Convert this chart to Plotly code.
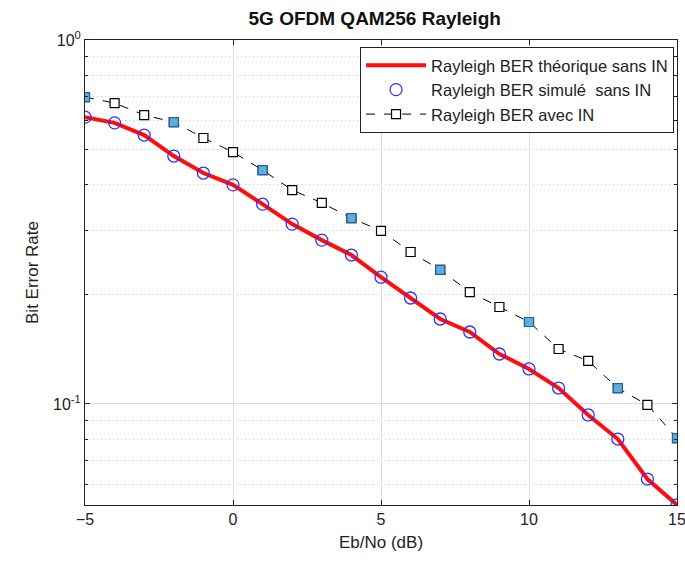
import plotly.graph_objects as go

ebno = list(range(-5, 16))
ber_theo = [0.614, 0.592, 0.548, 0.480, 0.431, 0.400, 0.354, 0.312, 0.282, 0.2566, 0.223,
            0.1955, 0.1712, 0.1577, 0.1372, 0.1248, 0.1106, 0.0933, 0.0801, 0.0622, 0.0528]
ber_sim = [0.614, 0.592, 0.548, 0.480, 0.431, 0.400, 0.354, 0.312, 0.282, 0.2566, 0.223,
           0.1955, 0.1712, 0.1577, 0.1372, 0.1248, 0.1106, 0.0933, 0.0801, 0.0622, 0.0528]
ber_in = [0.697, 0.671, 0.622, 0.595, 0.538, 0.492, 0.439, 0.387, 0.357, 0.324, 0.299,
          0.2616, 0.2335, 0.203, 0.1847, 0.168, 0.1416, 0.1313, 0.1106, 0.0994, 0.0806]
highlight_idx = [0, 3, 6, 9, 12, 15, 18, 20]

ytick_vals = [0.1, 1]
ytick_text = ["10<sup>-1</sup>", "10<sup>0</sup>"]
minor_vals = [0.06, 0.07, 0.08, 0.09, 0.2, 0.3, 0.4, 0.5, 0.6, 0.7, 0.8, 0.9]

font = "Liberation Sans, Arial, sans-serif"

fig = go.Figure()
fig.add_trace(go.Scatter(x=ebno, y=ber_theo, mode="lines", name="Rayleigh BER théorique sans IN",
                         line=dict(color="#ff0d0d", width=4)))
fig.add_trace(go.Scatter(x=ebno, y=ber_sim, mode="markers", name="Rayleigh BER simulé  sans IN",
                         marker=dict(symbol="circle-open", size=12, color="#3333ee", line=dict(width=1.3))))
fig.add_trace(go.Scatter(x=ebno, y=ber_in, mode="lines+markers", name="Rayleigh BER avec IN",
                         line=dict(color="black", width=1, dash="dash"),
                         marker=dict(symbol="square", size=9, color="white",
                                     line=dict(color="black", width=1.2))))
fig.add_trace(go.Scatter(x=[ebno[i] for i in highlight_idx], y=[ber_in[i] for i in highlight_idx],
                         mode="markers", showlegend=False,
                         marker=dict(symbol="square", size=9, color="#5ab0e0",
                                     line=dict(color="#2a5f98", width=1.2))))

fig.update_layout(
    width=685, height=563,
    margin=dict(l=85, r=8, t=40, b=58),
    paper_bgcolor="white", plot_bgcolor="white",
    font=dict(family=font, size=16, color="#222"),
    title=dict(text="<b>5G OFDM QAM256 Rayleigh</b>", x=0.547, xanchor="center", y=0.968, yanchor="middle",
               font=dict(size=19, color="#111")),
    xaxis=dict(range=[-5, 15], tickvals=[-5, 0, 5, 10, 15], showgrid=True, gridcolor="#dcdcdc", gridwidth=1,
               ticks="inside", ticklen=5, tickcolor="#222", mirror="ticks", showline=True, linecolor="#222",
               linewidth=1, zeroline=False, title=dict(text="Eb/No (dB)", standoff=8, font=dict(size=17)),
               tickfont=dict(size=16), automargin=False, ticklabeloverflow="allow"),
    yaxis=dict(type="log", range=[-1.2775, 0], tickvals=ytick_vals, ticktext=ytick_text,
               showgrid=True, gridcolor="#dcdcdc", gridwidth=1, ticks="inside", ticklen=5, tickcolor="#222",
               mirror="ticks", showline=True, linecolor="#222", linewidth=1, zeroline=False,
               title=dict(text="Bit Error Rate", standoff=10, font=dict(size=17)),
               tickfont=dict(size=16), automargin=False,
               minor=dict(tickvals=minor_vals, showgrid=True, gridcolor="#c8c8c8", griddash="1px,3px",
                          ticks="inside", ticklen=3, tickcolor="#222")),
    legend=dict(x=0.995, y=0.985, xanchor="right", yanchor="top", bgcolor="white",
                bordercolor="#222", borderwidth=1, font=dict(size=16.5), tracegroupgap=0,
                itemwidth=60),
    showlegend=True,
)

fig.write_html("out.html")
